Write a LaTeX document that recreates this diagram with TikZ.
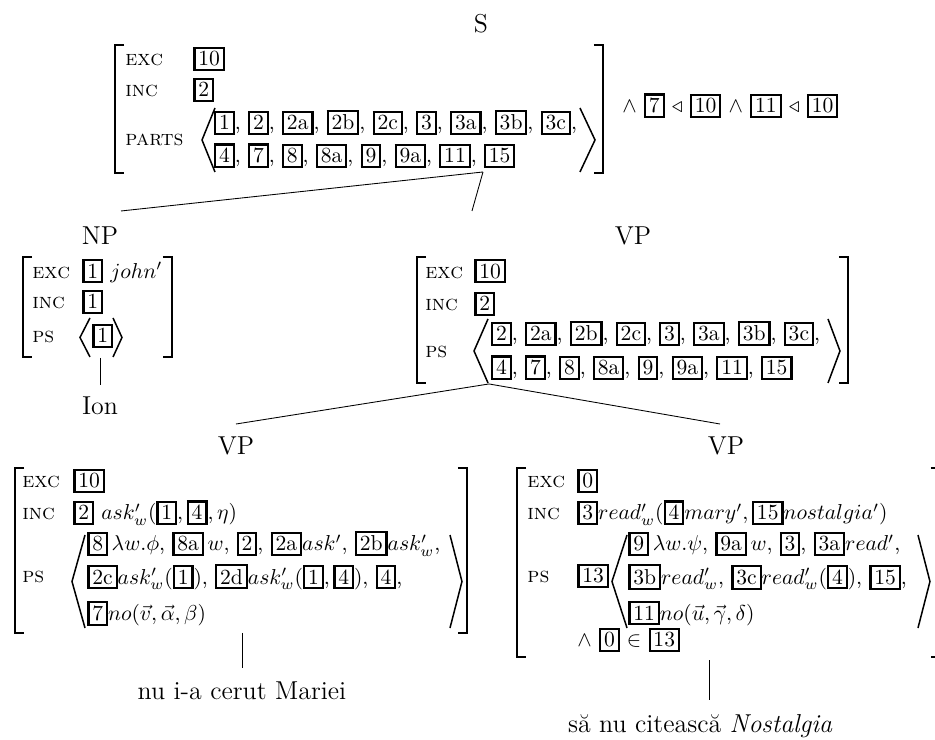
\documentclass[tikz,border=0pt]{standalone}
\usepackage{amsmath, amssymb}
\usepackage{tikz}

% boxed tags inside the feature structures
\newcommand{\ibox}[1]{{\setlength{\fboxsep}{1.3pt}\setlength{\fboxrule}{1pt}\fbox{#1}}}

\begin{document}
\begin{tikzpicture}[
    lbl/.style={font=\large, anchor=base, inner sep=0pt},
    feat/.style={font=\scshape, anchor=base west, inner sep=0pt},
    val/.style={anchor=base west, inner sep=0pt},
    brk/.style={line width=0.7pt},
    ang/.style={line width=0.7pt},
    branch/.style={line width=0.4pt}
]
\useasboundingbox (0,0) rectangle (15.222, 12.047);

% S
\node[lbl] (s) at (7.831, 11.510) {S};
\node[feat] (s-exc) at (2.035, 10.973) {exc};
\node[val] (s-excv) at (3.142, 10.973) {\ibox{10}};
\node[feat] (s-inc) at (2.035, 10.468) {inc};
\node[val] (s-incv) at (3.142, 10.468) {\ibox{2}};
\node[feat] (s-parts) at (2.035, 9.670) {parts};
\node[val] (s-r1) at (3.480, 9.931) {\ibox{1}, \ibox{2}, \ibox{2a}, \ibox{2b}, \ibox{2c}, \ibox{3}, \ibox{3a}, \ibox{3b}, \ibox{3c},};
\node[val] (s-r2) at (3.480, 9.394) {\ibox{4}, \ibox{7}, \ibox{8}, \ibox{8a}, \ibox{9}, \ibox{9a}, \ibox{11}, \ibox{15}};
\node[val] (s-cond) at (10.126, 10.208) {$\wedge$ \ibox{7} $\triangleleft$ \ibox{10} $\wedge$ \ibox{11} $\triangleleft$ \ibox{10}};
\draw[ang] (3.500, 10.289) -- (3.289, 9.768) -- (3.500, 9.247);
\draw[ang] (9.442, 10.289) -- (9.687, 9.768) -- (9.442, 9.247);
\draw[brk] (2.022, 11.315) -- (1.872, 11.315) -- (1.872, 9.231) -- (2.022, 9.231);
\draw[brk] (9.667, 11.315) -- (9.817, 11.315) -- (9.817, 9.231) -- (9.667, 9.231);

% NP
\node[lbl] (np) at (1.628, 8.059) {NP};
\node[feat] (np-exc) at (0.521, 7.521) {exc};
\node[val] (np-excv) at (1.335, 7.521) {\ibox{1} $john'$};
\node[feat] (np-inc) at (0.521, 7.017) {inc};
\node[val] (np-incv) at (1.335, 7.017) {\ibox{1}};
\node[feat] (np-ps) at (0.521, 6.463) {ps};
\node[val] (np-psv) at (1.498, 6.463) {\ibox{1}};
\draw[ang] (1.465, 6.870) -- (1.302, 6.553) -- (1.465, 6.235);
\draw[ang] (1.840, 6.870) -- (1.986, 6.553) -- (1.840, 6.235);
\draw[brk] (0.524, 7.863) -- (0.374, 7.863) -- (0.374, 6.235) -- (0.524, 6.235);
\draw[brk] (2.650, 7.863) -- (2.800, 7.863) -- (2.800, 6.235) -- (2.650, 6.235);

% VP
\node[lbl] (vp) at (10.305, 8.059) {VP};
\node[feat] (vp-exc) at (6.919, 7.521) {exc};
\node[val] (vp-excv) at (7.717, 7.521) {\ibox{10}};
\node[feat] (vp-inc) at (6.919, 6.984) {inc};
\node[val] (vp-incv) at (7.717, 6.984) {\ibox{2}};
\node[feat] (vp-ps) at (6.919, 6.219) {ps};
\node[val] (vp-r1) at (7.990, 6.496) {\ibox{2}, \ibox{2a}, \ibox{2b}, \ibox{2c}, \ibox{3}, \ibox{3a}, \ibox{3b}, \ibox{3c},};
\node[val] (vp-r2) at (7.990, 5.942) {\ibox{4}, \ibox{7}, \ibox{8}, \ibox{8a}, \ibox{9}, \ibox{9a}, \ibox{11}, \ibox{15}};
\draw[ang] (7.945, 6.854) -- (7.717, 6.333) -- (7.945, 5.812);
\draw[ang] (13.480, 6.854) -- (13.675, 6.333) -- (13.480, 5.812);
\draw[brk] (6.939, 7.863) -- (6.789, 7.863) -- (6.789, 5.812) -- (6.939, 5.812);
\draw[brk] (13.655, 7.863) -- (13.805, 7.863) -- (13.805, 5.812) -- (13.655, 5.812);

% lower VP, left
\node[lbl] (vpa) at (3.842, 4.640) {VP};
\node[feat] (vpa-exc) at (0.358, 4.103) {exc};
\node[val] (vpa-excv) at (1.188, 4.103) {\ibox{10}};
\node[feat] (vpa-inc) at (0.358, 3.582) {inc};
\node[val] (vpa-incv) at (1.188, 3.582) {\ibox{2} $ask'_w(\ibox{1}, \ibox{4}, \eta)$};
\node[feat] (vpa-ps) at (0.358, 2.556) {ps};
\node[val] (vpa-r1) at (1.416, 3.077) {\ibox{8}\,$\lambda w.\phi$, \ibox{8a}\,$w$, \ibox{2}, \ibox{2a}$ask'$, \ibox{2b}$ask'_w$,};
\node[val] (vpa-r2) at (1.416, 2.535) {\ibox{2c}$ask'_w(\ibox{1})$, \ibox{2d}$ask'_w(\ibox{1}, \ibox{4})$, \ibox{4},};
\node[val] (vpa-r3) at (1.416, 1.945) {\ibox{7}$no(\vec{v}, \vec{\alpha}, \beta)$};
\draw[ang] (1.384, 3.337) -- (1.172, 2.580) -- (1.384, 1.823);
\draw[ang] (7.326, 3.337) -- (7.521, 2.580) -- (7.326, 1.823);
\draw[brk] (0.394, 4.428) -- (0.244, 4.428) -- (0.244, 1.742) -- (0.394, 1.742);
\draw[brk] (7.453, 4.428) -- (7.603, 4.428) -- (7.603, 1.742) -- (7.453, 1.742);

% lower VP, right
\node[lbl] (vpb) at (11.819, 4.640) {VP};
\node[feat] (vpb-exc) at (8.580, 4.103) {exc};
\node[val] (vpb-excv) at (9.394, 4.103) {\ibox{0}};
\node[feat] (vpb-inc) at (8.580, 3.582) {inc};
\node[val] (vpb-incv) at (9.394, 3.582) {\ibox{3}$read'_w(\ibox{4}mary', \ibox{15}nostalgia')$};
\node[feat] (vpb-ps) at (8.580, 2.556) {ps};
\node[val] (vpb-psv) at (9.394, 2.556) {\ibox{13}};
\node[val] (vpb-r1) at (10.224, 3.077) {\ibox{9}\,$\lambda w.\psi$, \ibox{9a}\,$w$, \ibox{3}, \ibox{3a}$read'$,};
\node[val] (vpb-r2) at (10.224, 2.535) {\ibox{3b}$read'_w$, \ibox{3c}$read'_w(\ibox{4})$, \ibox{15},};
\node[val] (vpb-r3) at (10.224, 1.945) {\ibox{11}$no(\vec{u}, \vec{\gamma}, \delta)$};
\node[val] (vpb-cond) at (9.394, 1.514) {$\wedge$ \ibox{0} $\in$ \ibox{13}};
\draw[ang] (10.208, 3.337) -- (9.963, 2.580) -- (10.208, 1.823);
\draw[ang] (14.945, 3.337) -- (15.140, 2.580) -- (14.945, 1.823);
\draw[brk] (8.567, 4.428) -- (8.417, 4.428) -- (8.417, 1.351) -- (8.567, 1.351);
\draw[brk] (15.153, 4.428) -- (15.303, 4.428) -- (15.303, 1.351) -- (15.153, 1.351);

% leaves
\node[lbl] (ion) at (1.628, 5.291) {Ion};
\node[lbl] (leaf-a) at (3.940, 0.651) {nu i-a cerut Mariei};
\node[lbl] (leaf-b) at (11.400, 0.114) {să nu citească \textit{Nostalgia}};

% branch points
\coordinate (s-foot) at (7.863, 9.247);
\coordinate (np-head) at (1.970, 8.612);
\coordinate (vp-head) at (7.684, 8.612);
\coordinate (vp-foot) at (7.961, 5.796);
\coordinate (vpa-head) at (3.842, 5.144);
\coordinate (vpb-head) at (11.722, 5.144);
\coordinate (np-foot) at (1.628, 6.219);
\coordinate (ion-head) at (1.628, 5.779);
\coordinate (vpa-foot) at (3.940, 1.742);
\coordinate (leafa-head) at (3.940, 1.172);
\coordinate (vpb-foot) at (11.543, 1.302);
\coordinate (leafb-head) at (11.543, 0.651);

\draw[branch] (s-foot) -- (np-head);
\draw[branch] (s-foot) -- (vp-head);
\draw[branch] (vp-foot) -- (vpa-head);
\draw[branch] (vp-foot) -- (vpb-head);
\draw[branch] (np-foot) -- (ion-head);
\draw[branch] (vpa-foot) -- (leafa-head);
\draw[branch] (vpb-foot) -- (leafb-head);

\end{tikzpicture}
\end{document}
